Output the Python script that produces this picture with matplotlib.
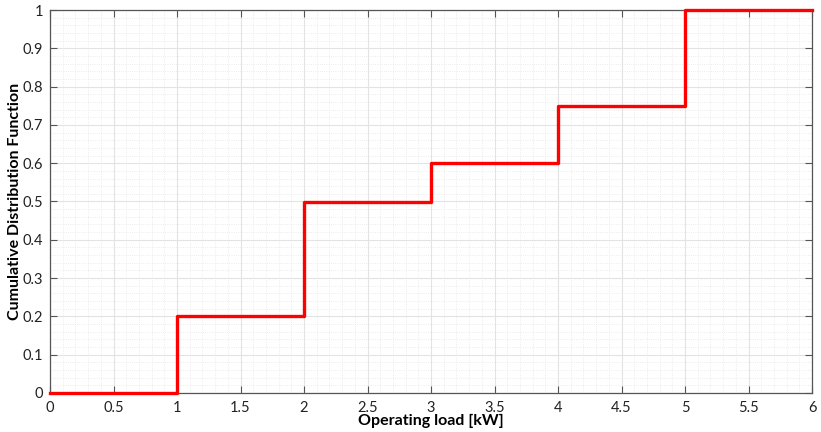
import numpy as np
import matplotlib.pyplot as plt
from matplotlib.ticker import MultipleLocator

plt.rcParams['font.family'] = ['Lato', 'DejaVu Sans']

# step points of the empirical CDF
load_kw = [0, 1, 2, 3, 4, 5, 6]
cdf = [0, 0.2, 0.5, 0.6, 0.75, 1.0, 1.0]

fig = plt.figure(figsize=(8.21, 4.32), dpi=100)
ax = fig.add_axes([50 / 821, 1 - 393 / 432, 762 / 821, 383 / 432])

ax.step(load_kw, cdf, where='post', color='#ff0000', linewidth=2.4, zorder=3,
        clip_on=False)

ax.set_xlim(0, 6)
ax.set_ylim(0, 1)
ax.xaxis.set_major_locator(MultipleLocator(0.5))
ax.xaxis.set_minor_locator(MultipleLocator(0.1))
ax.yaxis.set_major_locator(MultipleLocator(0.1))
ax.yaxis.set_minor_locator(MultipleLocator(0.02))

ax.set_xticklabels([f'{v:g}' for v in ax.get_xticks()])
ax.set_yticklabels([f'{v:g}' for v in ax.get_yticks()])

ax.grid(which='major', color='#e3e3e3', linewidth=0.8, linestyle='-')
ax.grid(which='minor', color='#e6e6e6', linewidth=0.6, linestyle=':')
ax.set_axisbelow(True)

ax.tick_params(which='major', direction='in', length=5, color='#555555',
               top=True, right=True, labelsize=10.5, labelcolor='#222222')
ax.tick_params(axis='x', pad=6)
ax.tick_params(axis='y', pad=5)
ax.tick_params(which='minor', length=0)
for s in ax.spines.values():
    s.set_color('#555555')
    s.set_linewidth(0.9)

ax.set_xlabel('Operating load [kW]', fontsize=11.5, fontweight='bold',
              va='center')
ax.set_ylabel('Cumulative Distribution Function', fontsize=11.5,
              fontweight='bold', va='center')
ax.xaxis.set_label_coords(0.5, -0.073)
ax.yaxis.set_label_coords(-0.046, 0.5)

fig.savefig('out.png', dpi=100)
